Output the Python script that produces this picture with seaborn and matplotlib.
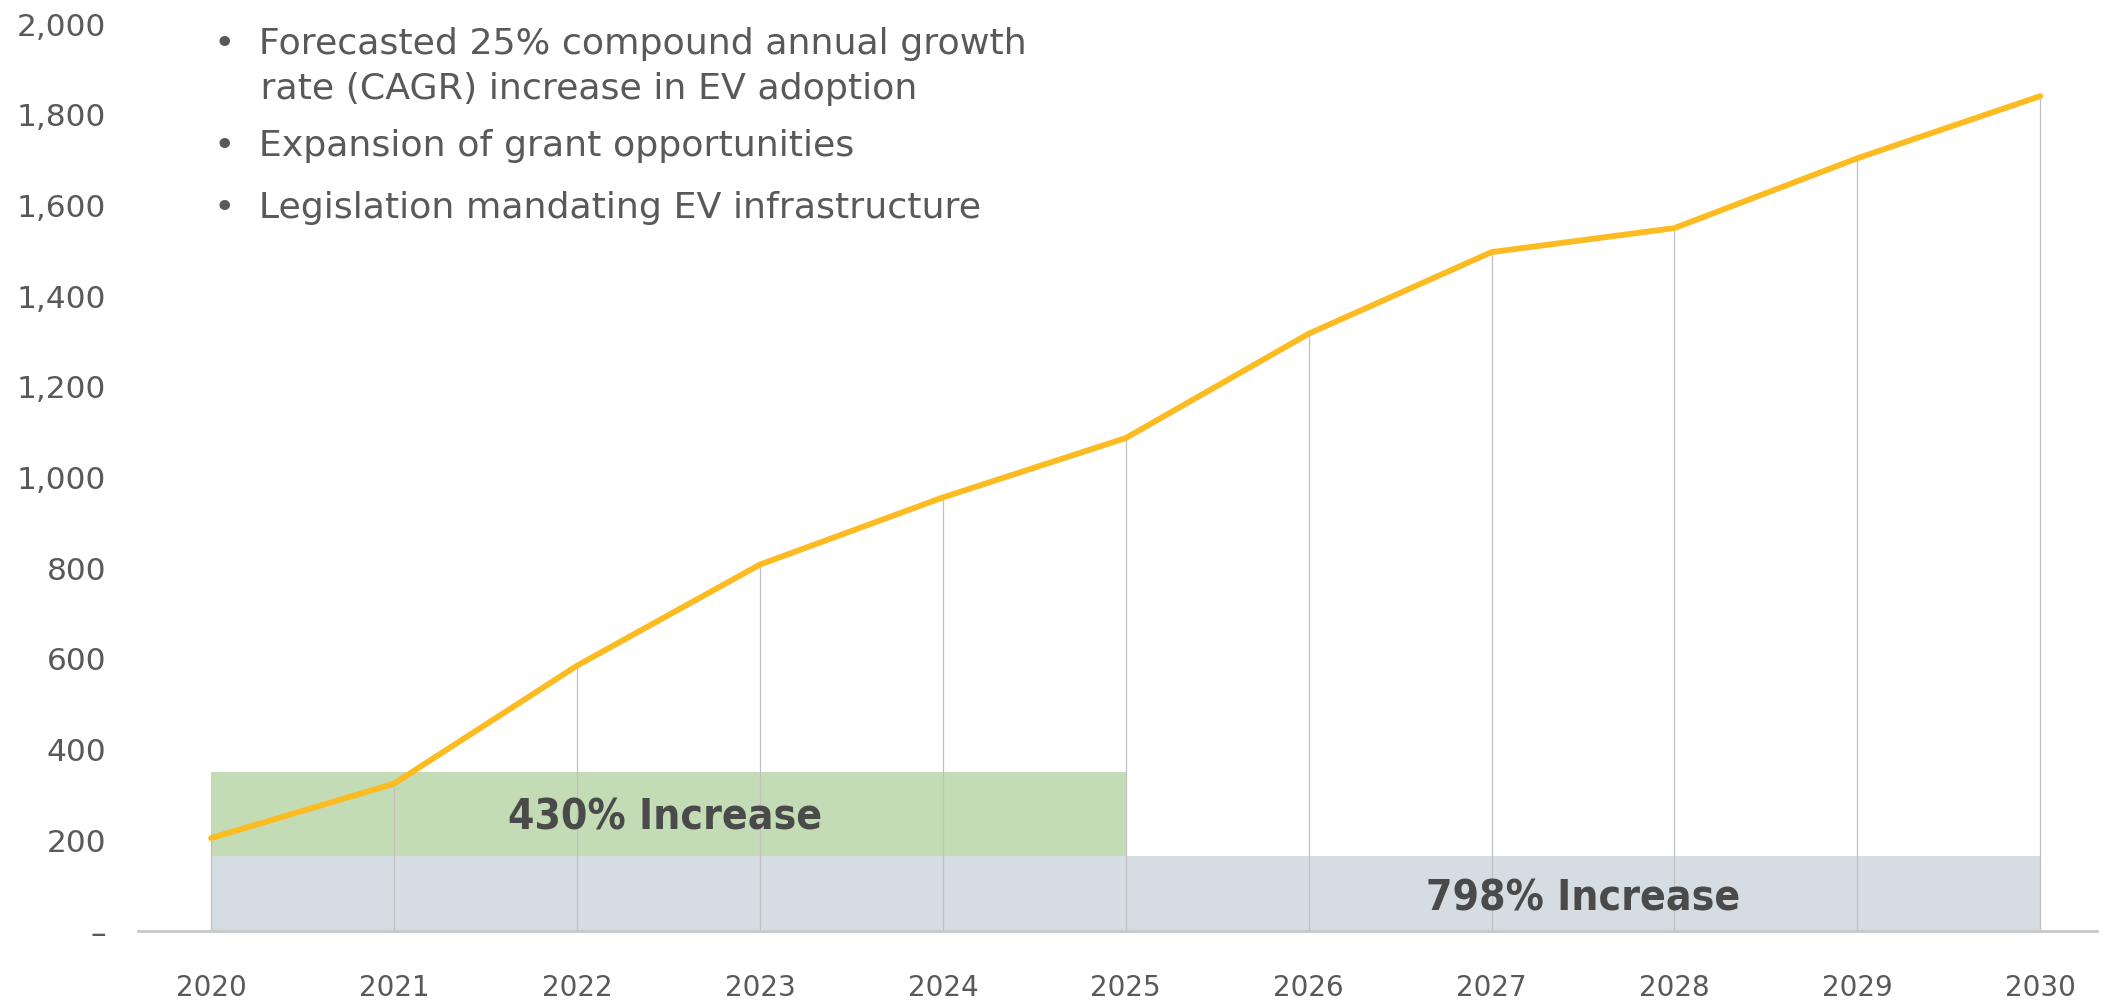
import matplotlib
matplotlib.use('Agg')
import matplotlib.pyplot as plt
from matplotlib.ticker import FuncFormatter
import seaborn as sns
import pandas as pd

years = [2020, 2021, 2022, 2023, 2024, 2025, 2026, 2027, 2028, 2029, 2030]
values = [205, 325, 585, 808, 956, 1087, 1317, 1497, 1550, 1704, 1841]

# shaded bands: (start year, end year, low, high)
band_first = (2020, 2025, 165, 350)
band_total = (2020, 2030, 0, 165)

bullets = [
    '•  Forecasted 25% compound annual growth',
    '    rate (CAGR) increase in EV adoption',
    '•  Expansion of grant opportunities',
    '•  Legislation mandating EV infrastructure',
]
label_first = '430% Increase'
label_total = '798% Increase'

sns.set_theme(style='white')
plt.rcParams['font.family'] = ['DejaVu Sans']

text_grey = '#595959'
df = pd.DataFrame({'Year': years, 'Value': values})

fig = plt.figure(figsize=(21.04, 10.02), dpi=100)
ax = fig.add_axes([138 / 2104, 71 / 1002, (2097 - 138) / 2104, (931 - 24) / 1002])

ax.fill_between([band_total[0], band_total[1]], band_total[2], band_total[3],
                color='#d5dde3', lw=0, zorder=1)
ax.fill_between([band_first[0], band_first[1]], band_first[2], band_first[3],
                color='#c3dcb5', lw=0, zorder=1)

# drop lines
ax.vlines(df['Year'], 0, df['Value'], color='#c0c0c0', lw=0.9, zorder=2)

sns.lineplot(data=df, x='Year', y='Value', color='#fcbb20', lw=4.2, ax=ax, zorder=3)

ax.text(2022.48, 250, label_first, ha='center', va='center', fontsize=30.5,
        fontweight='bold', fontstretch='condensed', color='#4a4a4a', zorder=4)
ax.text(2027.5, 72, label_total, ha='center', va='center', fontsize=30.5,
        fontweight='bold', fontstretch='condensed', color='#4a4a4a', zorder=4)

ax.set_xlim(2019.6, 2030.31)
ax.set_ylim(0, 2000)
ax.set_xticks(years)
ax.set_yticks(range(0, 2001, 200))
ax.yaxis.set_major_formatter(FuncFormatter(lambda v, p: '–' if v == 0 else f'{int(v):,}'))
ax.tick_params(axis='both', labelsize=22.5, colors=text_grey, length=0)
ax.tick_params(axis='x', pad=31, labelsize=20)
ax.tick_params(axis='y', pad=23)
ax.set_xlabel('')
ax.set_ylabel('')
for s in ['top', 'right', 'left']:
    ax.spines[s].set_visible(False)
ax.spines['bottom'].set_color('#c8c8c8')
ax.spines['bottom'].set_linewidth(2)
ax.grid(False)

ys = [44, 89, 146, 208]
for t, y in zip(bullets, ys):
    fig.text(214 / 2104, 1 - y / 1002, t, ha='left', va='center', fontsize=26.2, color=text_grey)

fig.savefig('out.png', dpi=100)
